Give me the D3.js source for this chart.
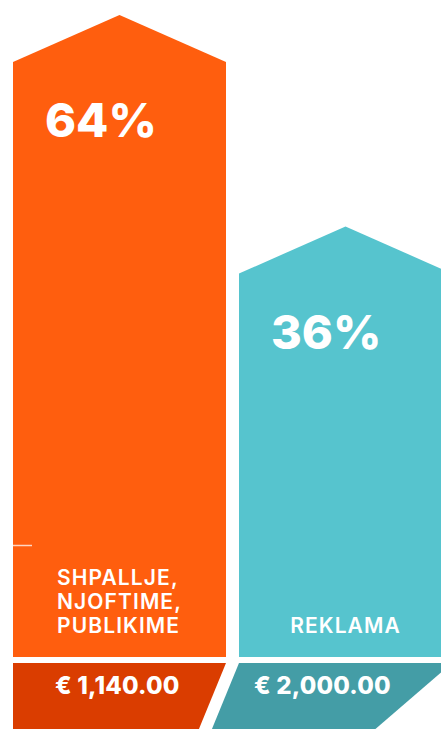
<!DOCTYPE html>
<html>
<head>
<meta charset="utf-8">
<script src="https://cdn.jsdelivr.net/npm/d3@7"></script>
<style>
  html, body { margin: 0; padding: 0; background: #fff; }
  svg { display: block; }
  text { font-family: "Inter", "Lato", sans-serif; fill: #fff; }
</style>
</head>
<body>
<svg id="chart" width="441" height="729"></svg>
<script>
// ---- data ----
const categories = ["SHPALLJE, NJOFTIME, PUBLIKIME", "REKLAMA"];
const categoryLines = [["SHPALLJE,", "NJOFTIME,", "PUBLIKIME"], ["REKLAMA"]];
const percents = [64, 36];
const amounts = ["€ 1,140.00", "€ 2,000.00"];
const barColors = ["#FF5E0E", "#56C4CE"];
const footColors = ["#DA3D00", "#449DA6"];

// ---- layout ----
const svg = d3.select("#chart");

const x = d3.scaleBand()
  .domain(categories)
  .range([13, 452])
  .paddingInner(13 / 226)
  .paddingOuter(0);

const y = d3.scaleLinear()
  .domain([0, d3.max(percents)])
  .range([545.5, 62]);

const barBottom = 657;
const capH = 47;
const footTop = 663;
const footBottom = 740;

const data = categories.map((c, i) => ({
  cat: c, lines: categoryLines[i], pct: percents[i], amt: amounts[i],
  color: barColors[i], foot: footColors[i], i
}));

const g = svg.append("g");

// bars with arrow-like tops
g.selectAll("path.bar").data(data).join("path")
  .attr("class", "bar")
  .attr("fill", d => d.color)
  .attr("d", d => {
    const x0 = x(d.cat), x1 = x0 + x.bandwidth(), xm = (x0 + x1) / 2;
    const ys = y(d.pct);
    return `M${x0},${barBottom} L${x0},${ys} L${xm},${ys - capH} L${x1},${ys} L${x1},${barBottom} Z`;
  });

// zero tick
g.append("line")
  .attr("x1", x(categories[0])).attr("x2", x(categories[0]) + 19)
  .attr("y1", y(0)).attr("y2", y(0))
  .attr("stroke", "rgba(255,255,255,0.75)").attr("stroke-width", 1.5);

// footers (slanted)
const slant = 0.41;
const footH = footBottom - footTop;
g.selectAll("path.foot").data(data).join("path")
  .attr("class", "foot")
  .attr("fill", d => d.foot)
  .attr("d", d => {
    const x0 = x(d.cat), x1 = x0 + x.bandwidth();
    if (d.i === 0) {
      return `M${x0},${footTop} L${x1},${footTop} L${x1 - slant * footH},${footBottom} L${x0},${footBottom} Z`;
    } else {
      return `M${x0},${footTop} L${x1},${footTop} L${x1 - 1.16 * footH},${footBottom} L${x0 - slant * footH},${footBottom} Z`;
    }
  });

// percent labels
g.selectAll("text.pct").data(data).join("text")
  .attr("class", "pct")
  .attr("x", d => x(d.cat) + 32)
  .attr("y", d => y(d.pct) + 75)
  .attr("font-size", 47)
  .attr("font-weight", 800)
  .text(d => d.pct + "%");

// category labels (left-aligned block, centred on bar)
const lineH = 24;
const labelBase = 633;
data.forEach(d => {
  const t = g.append("text")
    .attr("font-size", 21)
    .attr("font-weight", 600)
    .attr("letter-spacing", 1.1);
  d.lines.forEach((ln, k) => {
    t.append("tspan")
      .attr("x", 0)
      .attr("y", labelBase - (d.lines.length - 1 - k) * lineH)
      .text(ln);
  });
  const bw = t.node().getBBox().width;
  const cx = x(d.cat) + x.bandwidth() / 2;
  t.attr("transform", `translate(${cx - bw / 2},0)`);
});

// amounts
const amtOffsets = [42, 15];
g.selectAll("text.amt").data(data).join("text")
  .attr("class", "amt")
  .attr("x", d => x(d.cat) + amtOffsets[d.i])
  .attr("y", 694)
  .attr("font-size", 24)
  .attr("font-weight", 800)
  .attr("letter-spacing", 0.2)
  .text(d => d.amt);
</script>
</body>
</html>
